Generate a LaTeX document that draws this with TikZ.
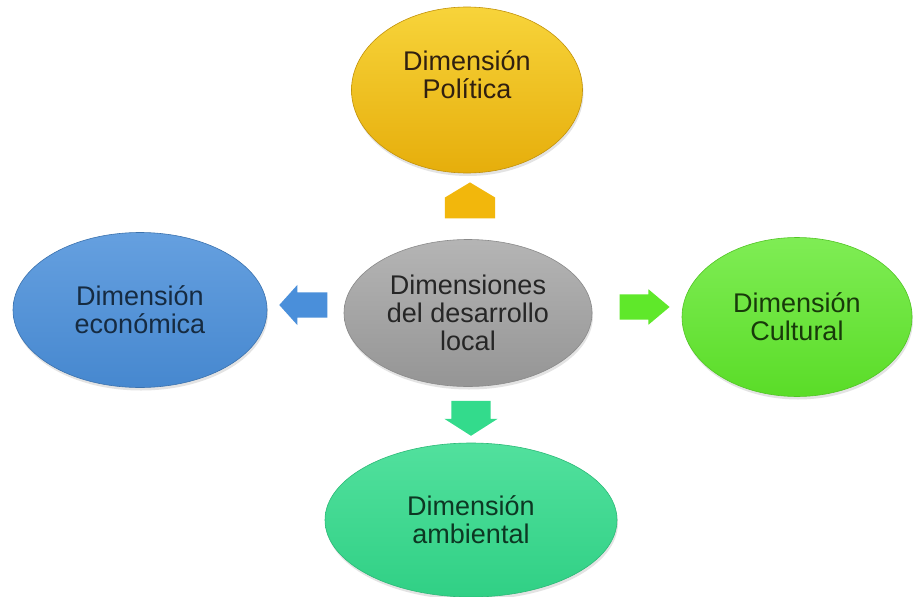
\documentclass[tikz,border=0pt]{standalone}
\usepackage{fontspec}
\setmainfont{Liberation Sans}
\usepackage{tikz}
\usetikzlibrary{shapes.geometric,shapes.arrows,shadows}
\definecolor{pol_c}{HTML}{F2B70C}
\definecolor{eco_c}{HTML}{4A8FDA}
\definecolor{cen_c}{HTML}{A2A2A2}
\definecolor{cul_c}{HTML}{5FE82A}
\definecolor{amb_c}{HTML}{33DB8C}
\tikzstyle{dim_e} = [ellipse, inner sep=0pt, align=center, font=\fontsize{27}{28}\selectfont, line width=0.6pt, drop shadow={shadow xshift=1pt, shadow yshift=-3pt, opacity=0.22}]
\tikzstyle{dim_a} = [single arrow, inner xsep=0pt, draw=none]

\begin{document}
\begin{tikzpicture}[x=1pt,y=-1pt]
\fill[white] (0,0) rectangle (913,597);
\useasboundingbox (0,0) rectangle (913,597);
\node [dim_e, minimum width=231pt, minimum height=166pt, top color=pol_c!75!yellow!80!white, bottom color=pol_c!95!black, draw=pol_c!80!black, text=black!75!brown,
    label={[font=\fontsize{27}{28}\selectfont, align=center, text=black!75!brown, yshift=15pt]center:Dimensión\\Política}] (pol) at (467,90) {};
\node [dim_e, minimum width=254pt, minimum height=155pt, top color=eco_c!85!white, bottom color=eco_c!95!black, draw=eco_c!80!black, text=eco_c!30!black] (eco) at (140,310) {Dimensión\\económica};
\node [dim_e, minimum width=248pt, minimum height=147pt, top color=cen_c!80!white, bottom color=cen_c!92!black, draw=cen_c!85!black, text=black!85] (cen) at (468,313) {Dimensiones\\del desarrollo\\local};
\node [dim_e, minimum width=230pt, minimum height=159pt, top color=cul_c!80!white, bottom color=cul_c!95!black, draw=cul_c!85!black, text=cul_c!25!black] (cul) at (797,317) {Dimensión\\Cultural};
\node [dim_e, minimum width=292pt, minimum height=154pt, top color=amb_c!85!white, bottom color=amb_c!95!black, draw=amb_c!85!black, text=amb_c!25!black] (amb) at (471,520) {Dimensión\\ambiental};
\node [dim_a, rotate=90, fill=pol_c, minimum height=36pt, inner ysep=25pt, single arrow head extend=0pt, single arrow tip angle=118] (pol_a) at (470,208) {};
\node [dim_a, rotate=180, fill=eco_c, minimum height=48pt, inner ysep=12.5pt, single arrow head extend=7.5pt, single arrow tip angle=96] (eco_a) at (309,305) {};
\node [dim_a, fill=cul_c, minimum height=50pt, inner ysep=12.5pt, single arrow head extend=5pt, single arrow tip angle=80] (cul_a) at (637,307) {};
\node [dim_a, rotate=-90, fill=amb_c, minimum height=35pt, inner ysep=19.5pt, single arrow head extend=7pt, single arrow tip angle=115] (amb_a) at (471,412) {};
\end{tikzpicture}
\end{document}
